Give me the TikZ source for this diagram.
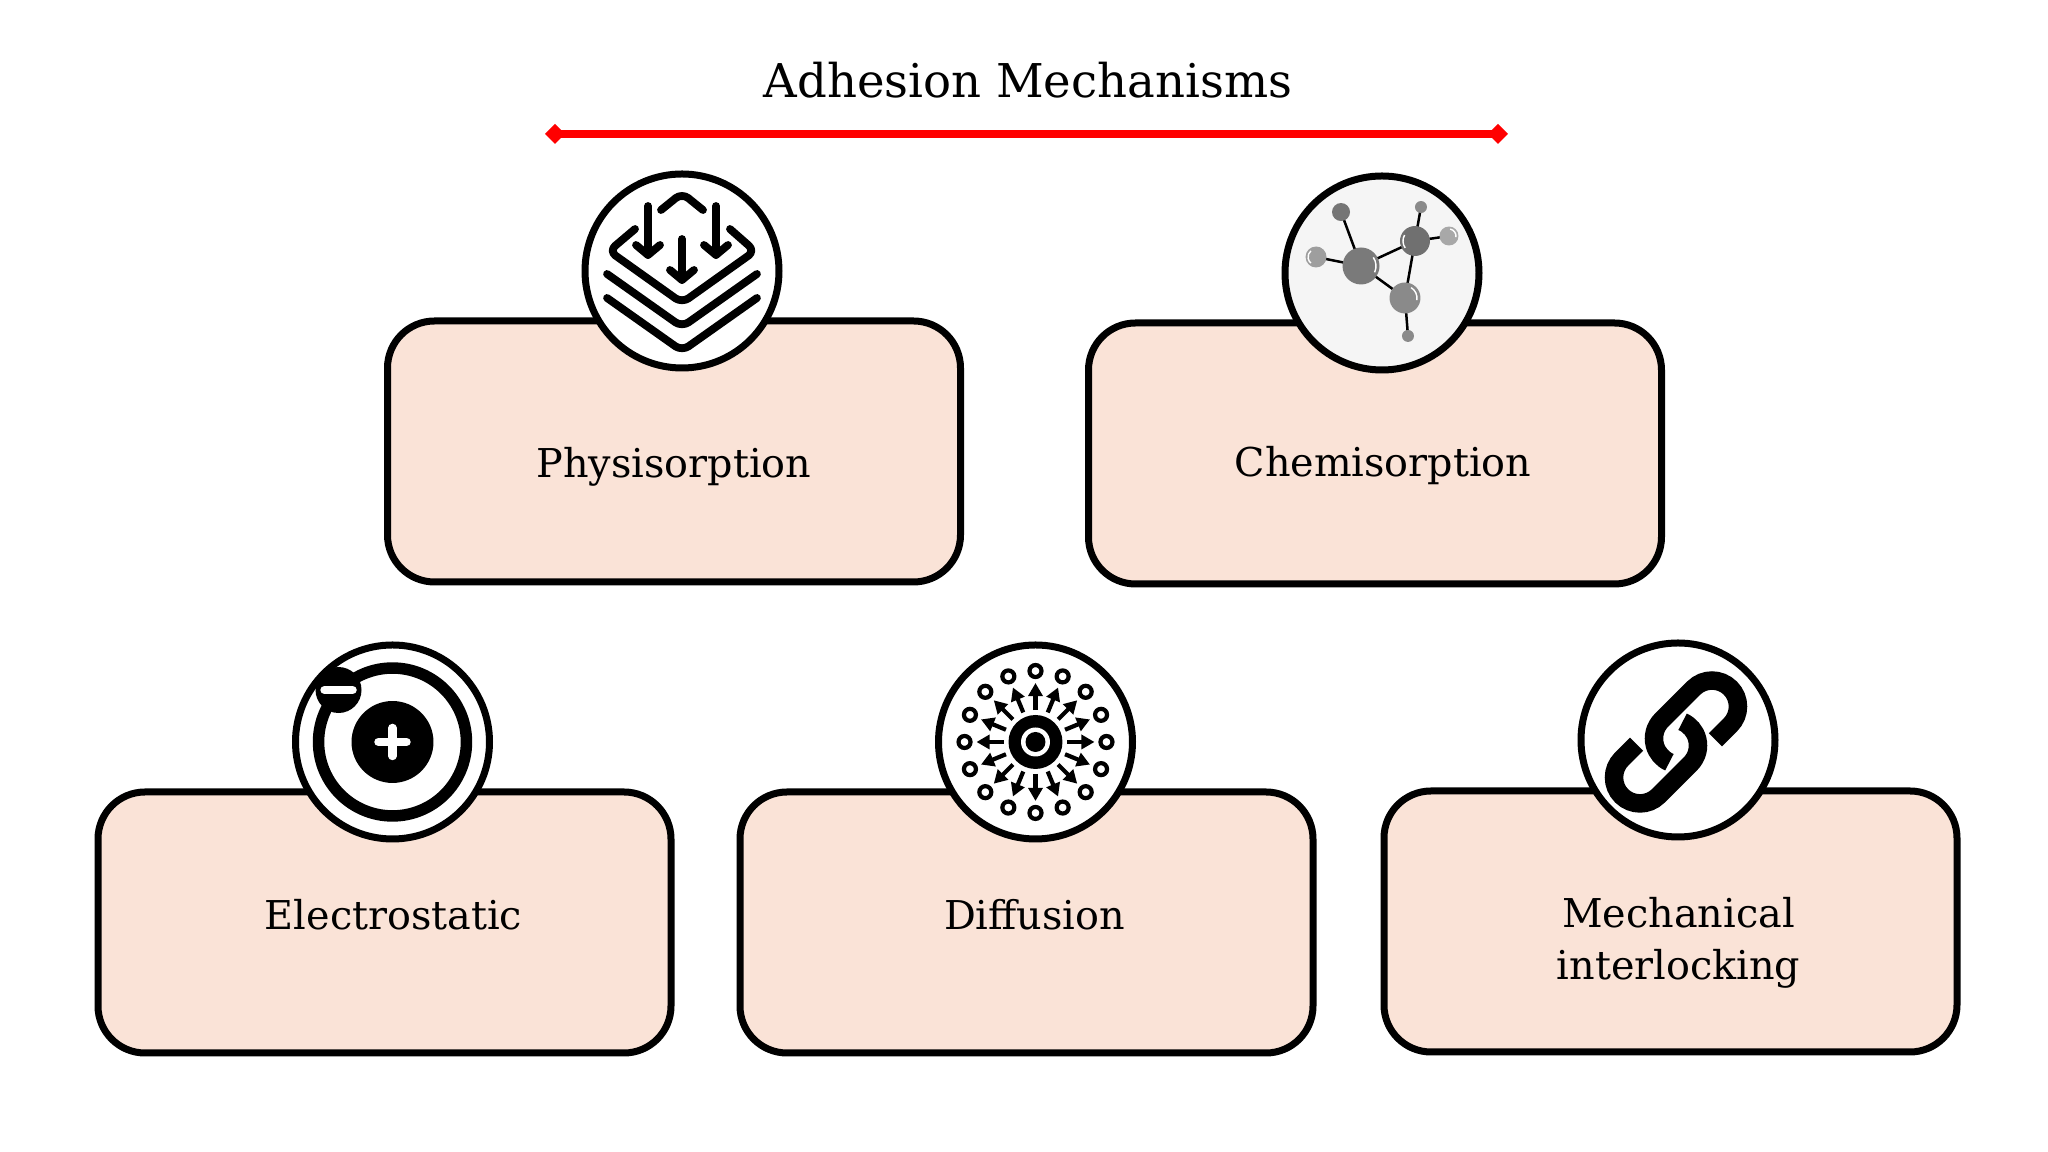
\documentclass[tikz,border=0pt]{standalone}
\usepackage{fontspec}
\setmainfont{DejaVu Serif}
\usetikzlibrary{arrows.meta}
\definecolor{peach}{HTML}{FAE3D7}
\tikzset{
  card/.style={rectangle,rounded corners=0.47cm,draw=black,fill=peach,line width=0.07cm,minimum width=5.73cm,minimum height=2.61cm,inner sep=0pt},
  lbl/.style={font=\fontsize{11.3}{14.8}\selectfont,align=center,text=black},
  badge/.style={circle,draw=black,fill=white,line width=0.07cm,minimum size=1.94cm,inner sep=0pt}, % round icon holder
  rulered/.style={{Diamond[length=0.2cm,width=0.2cm]}-{Diamond[length=0.2cm,width=0.2cm]},red,line width=0.075cm},
  glyph/.style={black,line width=0.078cm,line cap=round,line join=round,rounded corners=0.08cm},
  bond/.style={black,line width=0.025cm},
  shine/.style={white,line width=0.014cm},
  dart/.style={-{Triangle[length=0.13cm,width=0.14cm]},black,line width=0.042cm},
}
\begin{document}
\begin{tikzpicture}
  \useasboundingbox (0,0) rectangle (20.48,11.52);
  % title
  \node[font=\fontsize{13.25}{16}\selectfont] (title) at (10.28,10.715) {Adhesion Mechanisms};
  \coordinate (rulel) at (5.45,10.18); \coordinate (ruler) at (15.08,10.18);
  \draw[rulered] (rulel) -- (ruler);
  % cards
  \node[card] (phys) at (6.74,7.005) {};
  \node[card] (chem) at (13.75,6.985) {};
  \node[card] (elec) at (3.845,2.295) {};
  \node[card] (diff) at (10.265,2.295) {};
  \node[card] (mech) at (16.705,2.305) {};
  \node[lbl,yshift=-0.15cm] (physlbl) at (phys.center) {Physisorption};
  \node[lbl,xshift=0.08cm,yshift=-0.12cm] (chemlbl) at (chem.center) {Chemisorption};
  \node[lbl,xshift=0.09cm,yshift=0.08cm] (eleclbl) at (elec.center) {Electrostatic};
  \node[lbl,xshift=0.08cm,yshift=0.08cm] (difflbl) at (diff.center) {Diffusion};
  \node[lbl,xshift=0.08cm,yshift=-0.21cm] (mechlbl) at (mech.center) {Mechanical\\interlocking};
  % badges
  \node[badge] (physicon) at (6.82,8.81) {};
  \node[badge,fill=black!4] (chemicon) at (13.82,8.79) {};
  \node[badge] (elecicon) at (3.925,4.10) {};
  \node[badge] (difficon) at (10.355,4.10) {};
  \node[badge] (mechicon) at (16.78,4.12) {};
  % layers with arrows
  \begin{scope}[shift={(physicon.center)},scale=0.01]
    \draw[glyph] (-21,61) -- (0,78) -- (21,61);
    \draw[glyph] (-47,42) -- (-73,20) -- (0,-32) -- (73,20) -- (48,42);
    \draw[glyph] (-75,-3) -- (0,-56) -- (75,-3);
    \draw[glyph] (-75,-27) -- (0,-80) -- (75,-27);
    \foreach \x/\top/\bot in {-34/65/16,0/32/-9,34/65/16}{
      \draw[glyph,rounded corners=0pt] (\x,\top) -- (\x,\bot);
      \draw[glyph,rounded corners=0pt] (\x-12,\bot+10) -- (\x,\bot) -- (\x+12,\bot+10);
    }
  \end{scope}
  % molecule
  \begin{scope}[shift={(chemicon.center)},scale=0.01]
    \draw[bond] (-21,7) -- (-41,61) (-21,7) -- (-66,16) (-21,7) -- (33,32) (-21,7) -- (23,-25)
      (33,32) -- (23,-25) (33,32) -- (39,66) (33,32) -- (67,37) (23,-25) -- (26,-63);
    \fill[black!52] (-21,7) circle (18.5);
    \fill[black!56] (33,32) circle (15);
    \fill[black!46] (23,-25) circle (15.5);
    \fill[black!54] (-41,61) circle (9);
    \fill[black!38] (-66,16) circle (10.5);
    \fill[black!46] (39,66) circle (6);
    \fill[black!34] (67,37) circle (9.5);
    \fill[black!46] (26,-63) circle (6);
    \draw[shine] (-21,7) ++(-25:15) arc[start angle=-25,end angle=35,radius=15];
    \draw[shine] (33,32) ++(150:12) arc[start angle=150,end angle=215,radius=12];
    \draw[shine] (23,-25) ++(-10:12) arc[start angle=-10,end angle=60,radius=12];
    \draw[shine] (-66,16) ++(130:8) arc[start angle=130,end angle=230,radius=8];
    \draw[shine] (67,37) ++(-10:7) arc[start angle=-10,end angle=80,radius=7];
  \end{scope}
  % atom with charges
  \begin{scope}[shift={(elecicon.center)},scale=0.01]
    \draw[black,line width=0.115cm] (0,0) circle (74);
    \fill[black] (0,0) circle (41);
    \fill[black] (-54,52) circle (23);
    \draw[white,line width=0.085cm,line cap=round] (-68,52) -- (-40,52);
    \draw[white,line width=0.085cm,line cap=round] (-14,0) -- (14,0) (0,-14) -- (0,14);
  \end{scope}
  % radial spread
  \begin{scope}[shift={(difficon.center)},scale=0.01]
    \fill[black] (0,0) circle (27);
    \fill[white] (0,0) circle (14.5);
    \fill[black] (0,0) circle (10);
    \foreach \a in {0,22.5,...,337.5}{
      \draw[dart] (\a:32) -- (\a:59);
      \draw[black,line width=0.042cm] (\a:71) circle (6);
    }
  \end{scope}
  % chain
  \begin{scope}[shift={(mechicon.center)},scale=0.01,shift={(-2,-2)}]
    \foreach \a in {0,180}{
      \draw[black,line width=0.185cm,rotate=\a] (39.5,2.2) -- (54.4,17.1)
        arc[start angle=-45,end angle=135,radius=26] -- (-14.4,21.9)
        arc[start angle=135,end angle=246,radius=26];
    }
  \end{scope}
\end{tikzpicture}
\end{document}
